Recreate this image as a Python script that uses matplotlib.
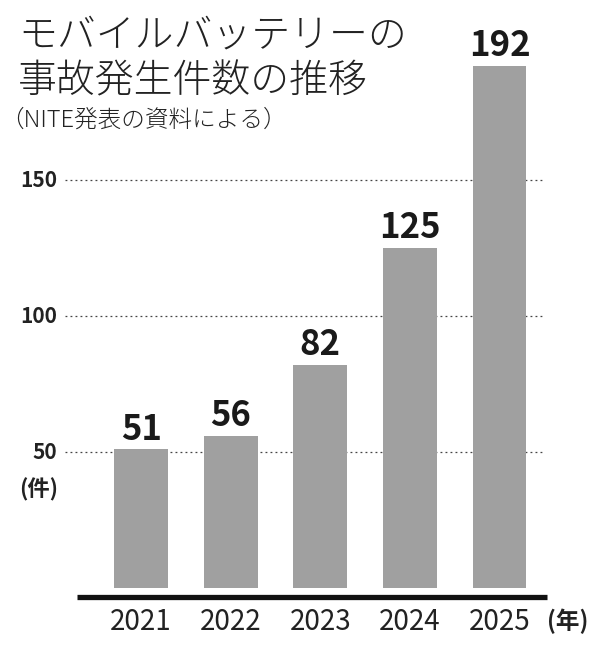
import matplotlib.pyplot as plt
import numpy as np

plt.rcParams['font.family'] = ['Noto Sans CJK JP', 'DejaVu Sans']

years = ['2021', '2022', '2023', '2024', '2025']
counts = [51, 56, 82, 125, 192]
yticks = [50, 100, 150]

title_lines = ['モバイルバッテリーの', '事故発生件数の推移']
subtitle = '（NITE発表の資料による）'

bar_color = '#a0a0a0'

fig = plt.figure(figsize=(6.0, 6.53), dpi=100)
ax = fig.add_axes([65 / 600, 1 - 599 / 653, 482 / 600, 555 / 653])
ax.set_xlim(-0.85, 4.53)
ax.set_ylim(-4, 200)
ax.axis('off')

x = np.arange(len(years))

# dotted grid
for t in yticks:
    ax.plot([-0.85, 4.5], [t, t], color='#444444', lw=0.9, ls=(0, (1.5, 2.5)), zorder=1)
    ax.text(-0.94, t, str(t), ha='right', va='center', fontsize=15, fontweight='bold', color='#222222')
ax.text(-1.14, 36, '(件)', ha='center', va='center', fontsize=16, fontweight='bold', color='#222222')

ax.bar(x, counts, width=0.6, color=bar_color, zorder=2)

for xi, c in zip(x, counts):
    ax.text(xi, c + 1.0, str(c), ha='center', va='bottom', fontsize=25, fontweight='bold', color='#1a1a1a')

# base line
ax.plot([-0.72, 4.53], [-3.3, -3.3], color='#111111', lw=3.8, solid_capstyle='butt', clip_on=False)

for xi, y in zip(x, years):
    ax.text(xi, -12.5, y, ha='center', va='center', fontsize=20, color='#222222')
ax.text(4.53, -12.3, '(年)', ha='left', va='center', fontsize=17, fontweight='bold', color='#222222')

fig.text(18 / 600, 1 - 36 / 653, title_lines[0], ha='left', va='center', fontsize=28, fontweight='light', color='#222222')
fig.text(18 / 600, 1 - 82 / 653, title_lines[1], ha='left', va='center', fontsize=28, fontweight='light', color='#222222')
fig.text(0 / 600, 1 - 120 / 653, subtitle, ha='left', va='center', fontsize=17, fontweight='light', color='#222222')

fig.savefig('out.png', dpi=100, facecolor='white')
